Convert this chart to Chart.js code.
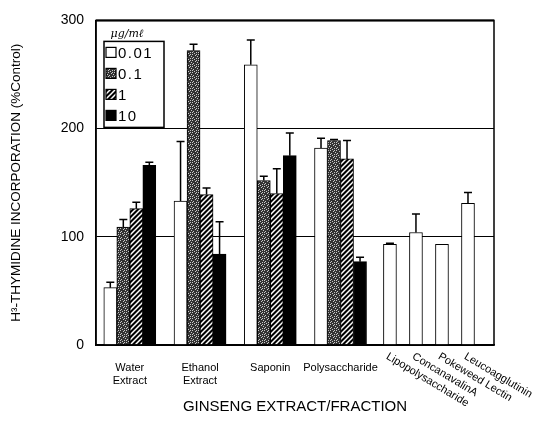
<!DOCTYPE html>
<html>
<head>
<meta charset="utf-8">
<script src="https://cdn.jsdelivr.net/npm/chart.js@4.4.1/dist/chart.umd.min.js"></script>
<style>
  html, body { margin: 0; padding: 0; background: #fff; }
  #wrap { width: 537px; height: 434px; }
</style>
</head>
<body>
<div id="wrap"><canvas id="c" width="537" height="434"></canvas></div>
<script>
// data
const groupLabels = [['Water', 'Extract'], ['Ethanol', 'Extract'], ['Saponin'], ['Polysaccharide']];
const mitogenLabels = ['Lipopolysaccharide', 'ConcanavalinA', 'Pokeweed Lectin', 'Leucoagglutinin'];
const doseLabels = ['0.01', '0.1', '1', '10'];
const dose001 = [53, 133, 259, 182];
const dose01 = [109, 272, 152, 189];
const dose1 = [126, 139, 140, 172];
const dose10 = [166, 84, 175, 77];
const err001 = [5, 55, 23, 9];
const err01 = [7, 6, 4, 1];
const err1 = [6, 6, 23, 17];
const err10 = [3, 30, 21, 4];
const mitogenValues = [93, 104, 93, 131];
const mitogenErr = [1, 17, 0, 10];
const yTicks = [0, 100, 200, 300];

// layout on the x axis, in bar widths
const GROUP_START = 2.6, GROUP_PITCH = 5.4;
const MITO_START = 22.6, MITO_PITCH = 2;
const X_MAX = 30.6;

const FONT = '"Liberation Sans", Arial, Helvetica, sans-serif';
Chart.defaults.font.family = FONT;
Chart.defaults.color = '#000';

const ctx = document.getElementById('c').getContext('2d');

// fill patterns for the printed bars
function stipple() {
    const c = document.createElement('canvas');
    c.width = c.height = 6;
    const g = c.getContext('2d');
    g.fillStyle = '#333';
    g.fillRect(0, 0, 6, 6);
    g.fillStyle = '#c8c8c8';
    [[0, 0], [3, 1], [1, 3], [4, 4], [5, 2], [2, 5], [0, 4], [4, 0]].forEach(p => g.fillRect(p[0], p[1], 1, 1));
    return ctx.createPattern(c, 'repeat');
}
function hatch() {
    const s = 5;
    const c = document.createElement('canvas');
    c.width = c.height = s;
    const g = c.getContext('2d');
    g.fillStyle = '#000';
    g.fillRect(0, 0, s, s);
    g.strokeStyle = '#fff';
    g.lineWidth = 1.5;
    g.beginPath();
    g.moveTo(-1, s + 1); g.lineTo(s + 1, -1);
    g.moveTo(-1, 1); g.lineTo(1, -1);
    g.moveTo(s - 1, s + 1); g.lineTo(s + 1, s - 1);
    g.stroke();
    return ctx.createPattern(c, 'repeat');
}
const fills = ['#fff', stipple(), hatch(), '#000'];

const series = [dose001, dose01, dose1, dose10];
const errs = [err001, err01, err1, err10];

const datasets = doseLabels.map((lab, d) => {
    const pts = series[d].map((v, g) => ({ x: GROUP_START + GROUP_PITCH * g + d - 1.5, y: v }));
    const e = errs[d].slice();
    if (d === 0) {
        mitogenValues.forEach((v, k) => {
            pts.push({ x: MITO_START + MITO_PITCH * k, y: v });
            e.push(mitogenErr[k]);
        });
    }
    return {
        label: lab,
        data: pts,
        err: e,
        backgroundColor: fills[d],
        borderColor: '#000',
        borderWidth: 1,
        borderSkipped: 'bottom',
        grouped: false,
        barPercentage: 1,
        categoryPercentage: 1
    };
});

// error bars (upper only)
const errorBars = {
    id: 'errorBars',
    afterDatasetsDraw(chart) {
        const c = chart.ctx, y = chart.scales.y;
        c.save();
        c.strokeStyle = '#000';
        c.lineWidth = 1.5;
        chart.data.datasets.forEach((ds, i) => {
            chart.getDatasetMeta(i).data.forEach((bar, j) => {
                const e = ds.err[j];
                if (!e) return;
                const top = y.getPixelForValue(ds.data[j].y + e);
                c.beginPath();
                c.moveTo(bar.x, bar.y);
                c.lineTo(bar.x, top);
                c.moveTo(bar.x - 4, top);
                c.lineTo(bar.x + 4, top);
                c.stroke();
            });
        });
        c.restore();
    }
};

// frame, legend and slanted labels
const extras = {
    id: 'extras',
    afterDraw(chart) {
        const c = chart.ctx, a = chart.chartArea, xs = chart.scales.x;
        c.save();
        c.strokeStyle = '#000';
        c.lineWidth = 1.5;
        c.strokeRect(a.left, a.top, a.right - a.left, a.bottom - a.top);
        c.lineWidth = 2;
        c.beginPath();
        c.moveTo(a.left, a.top);
        c.lineTo(a.right, a.top);
        c.stroke();

        // legend
        const lx = a.left + 8, ly = a.top + 21;
        c.font = 'italic 11px "DejaVu Serif", serif';
        c.fillStyle = '#000';
        c.textAlign = 'center';
        c.textBaseline = 'middle';
        c.fillText('μg/mℓ', lx + 23, ly - 7);
        c.lineWidth = 1.5;
        c.strokeRect(lx, ly, 60, 86);
        c.font = '15px ' + FONT;
        c.letterSpacing = '1.5px';
        c.textAlign = 'left';
        chart.data.datasets.forEach((ds, i) => {
            const cy = ly + 11 + i * 21;
            c.fillStyle = ds.backgroundColor;
            c.fillRect(lx + 2, cy - 5, 10, 10);
            c.lineWidth = 1.2;
            c.strokeRect(lx + 2, cy - 5, 10, 10);
            c.fillStyle = '#000';
            c.fillText(ds.label, lx + 14, cy + 1);
        });
        c.letterSpacing = '0px';

        // mitogen labels
        c.font = '11px ' + FONT;
        c.textBaseline = 'top';
        mitogenLabels.forEach((t, k) => {
            const px = xs.getPixelForValue(MITO_START + MITO_PITCH * k);
            c.save();
            c.translate(px, a.bottom + 6);
            c.rotate(31 * Math.PI / 180);
            c.fillText(t, 0, 0);
            c.restore();
        });
        c.restore();
    }
};

new Chart(ctx, {
    type: 'bar',
    data: { datasets: datasets },
    options: {
        responsive: false,
        animation: false,
        layout: { padding: { top: 13, right: 43, left: 0, bottom: 0 } },
        plugins: { legend: { display: false }, tooltip: { enabled: false } },
        scales: {
            x: {
                type: 'linear',
                offset: false,
                min: 0,
                max: X_MAX,
                grid: { display: false, offset: false },
                border: { display: true, color: '#000', width: 1.5 },
                afterBuildTicks: scale => {
                    scale.ticks = groupLabels.map((l, g) => ({ value: GROUP_START + GROUP_PITCH * g }));
                },
                afterFit: scale => { scale.height = 89; },
                ticks: {
                    autoSkip: false,
                    maxRotation: 0,
                    padding: 8,
                    font: { size: 11 },
                    callback: (v, i) => groupLabels[i]
                },
                title: {
                    display: true,
                    text: 'GINSENG EXTRACT/FRACTION',
                    font: { size: 15 },
                    padding: { top: 0, bottom: 18 }
                }
            },
            y: {
                min: 0,
                max: 300,
                afterBuildTicks: scale => { scale.ticks = yTicks.map(v => ({ value: v })); },
                afterFit: scale => { scale.width = 96; },
                grid: { color: '#000', lineWidth: 1, drawTicks: false },
                border: { display: true, color: '#000', width: 1.5 },
                ticks: { padding: 12, font: { size: 14 } },
                title: {
                    display: true,
                    text: 'H³-THYMIDINE INCORPORATION (%Control)',
                    font: { size: 13.5 },
                    padding: { top: 8, bottom: 0 }
                }
            }
        }
    },
    plugins: [errorBars, extras]
});
</script>
</body>
</html>
